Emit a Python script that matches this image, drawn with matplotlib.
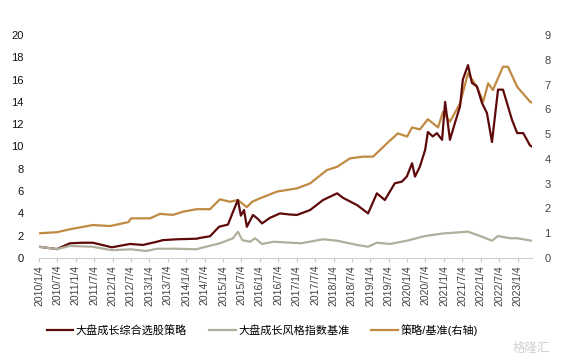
import pandas as pd
import matplotlib
matplotlib.use('Agg')
import matplotlib.pyplot as plt

plt.rcParams['font.family'] = ['Liberation Sans', 'Noto Sans CJK SC', 'DejaVu Sans']

# 大盘成长综合选股策略 (left axis)
strat_dates = ['2010-01-13', '2010-07-01', '2010-11-07', '2011-03-13', '2011-06-22', '2011-12-28',
               '2012-06-25', '2012-10-31', '2013-03-19', '2013-05-16', '2013-10-04', '2014-04-19',
               '2014-05-19', '2014-08-28', '2014-11-25', '2015-02-22', '2015-04-13', '2015-05-31',
               '2015-06-30', '2015-07-31', '2015-08-28', '2015-10-28', '2015-12-16', '2016-01-26',
               '2016-04-13', '2016-07-22', '2016-10-30', '2017-01-06', '2017-05-16', '2017-09-22',
               '2018-02-09', '2018-04-07', '2018-08-25', '2018-12-13', '2019-03-10', '2019-05-28',
               '2019-09-04', '2019-11-13', '2020-01-01', '2020-02-22', '2020-03-22', '2020-05-10',
               '2020-07-01', '2020-07-28', '2020-09-15', '2020-10-25', '2020-12-16', '2021-01-15',
               '2021-03-04', '2021-04-22', '2021-06-12', '2021-07-10', '2021-08-30', '2021-10-08',
               '2021-11-26', '2022-01-16', '2022-03-06', '2022-04-25', '2022-06-24', '2022-08-12',
               '2022-09-21', '2022-11-09', '2022-12-31', '2023-03-01', '2023-05-07', '2023-05-25']
strat_vals = [1.0, 0.8, 1.32, 1.37, 1.37, 0.96,
              1.26, 1.17, 1.46, 1.6, 1.68, 1.73,
              1.8, 1.95, 2.8, 3.0, 4.15, 5.2,
              3.8, 4.3, 2.8, 3.86, 3.5, 3.1,
              3.6, 4.0, 3.9, 3.86, 4.3, 5.2,
              5.8, 5.4, 4.75, 4.0, 5.8, 5.2,
              6.7, 6.85, 7.3, 8.5, 7.3, 8.2,
              9.7, 11.3, 10.9, 11.2, 10.6, 14.0,
              10.6, 12.1, 13.6, 16.0, 17.3, 15.7,
              15.4, 13.9, 13.0, 10.4, 15.1, 15.1,
              13.9, 12.4, 11.2, 11.2, 10.1, 10.0]

# 大盘成长风格指数基准 (left axis)
bench_dates = ['2010-01-13', '2010-07-01', '2010-11-07', '2011-06-22', '2011-12-28', '2012-07-05',
               '2012-11-30', '2013-03-19', '2013-10-04', '2014-04-19', '2014-05-19', '2014-12-04',
               '2015-04-13', '2015-05-31', '2015-07-15', '2015-09-29', '2015-11-18', '2016-01-26',
               '2016-05-21', '2017-02-15', '2017-09-22', '2018-02-09', '2018-08-25', '2018-12-13',
               '2019-03-10', '2019-07-19', '2020-01-01', '2020-07-01', '2020-12-25', '2021-08-30',
               '2022-01-16', '2022-04-25', '2022-06-24', '2022-10-20', '2022-12-31', '2023-05-25']
bench_vals = [1.0, 0.8, 1.08, 1.01, 0.7, 0.78,
              0.63, 0.83, 0.83, 0.78, 0.87, 1.32,
              1.77, 2.36, 1.6, 1.46, 1.77, 1.26,
              1.46, 1.32, 1.68, 1.55, 1.17, 1.01,
              1.37, 1.26, 1.55, 1.97, 2.2, 2.36,
              1.91, 1.55, 1.97, 1.77, 1.77, 1.55]

# 策略/基准 (right axis)
ratio_dates = ['2010-01-13', '2010-07-01', '2010-11-07', '2011-06-22', '2011-12-10', '2012-06-10',
               '2012-07-05', '2013-01-10', '2013-04-18', '2013-08-25', '2013-12-04', '2014-04-19',
               '2014-08-28', '2014-12-04', '2015-03-13', '2015-05-31', '2015-08-28', '2015-10-19',
               '2016-01-07', '2016-06-22', '2017-01-06', '2017-05-16', '2017-10-31', '2018-02-09',
               '2018-06-16', '2018-10-22', '2019-01-31', '2019-06-19', '2019-10-04', '2020-01-04',
               '2020-02-22', '2020-05-10', '2020-07-28', '2020-11-06', '2020-12-25', '2021-03-04',
               '2021-06-12', '2021-08-30', '2021-11-26', '2022-01-28', '2022-03-18', '2022-05-04',
               '2022-08-12', '2022-09-30', '2022-12-31', '2023-05-07', '2023-05-25']
ratio_vals = [1.0, 1.04, 1.16, 1.33, 1.29, 1.45,
              1.6, 1.6, 1.78, 1.74, 1.87, 1.97,
              1.97, 2.37, 2.27, 2.34, 2.05, 2.27,
              2.41, 2.68, 2.81, 3.01, 3.55, 3.68,
              4.02, 4.09, 4.09, 4.63, 5.03, 4.9,
              5.27, 5.19, 5.6, 5.27, 5.9, 5.5,
              6.24, 7.45, 6.91, 6.31, 7.05, 6.78,
              7.72, 7.72, 6.91, 6.31, 6.27]

tick_labels = [f'{y}/{m}/4' for y in range(2010, 2024) for m in (1, 7)][:-1]
tick_dates = pd.to_datetime([s.replace('/', '-') for s in tick_labels], format='%Y-%m-%d')

fig = plt.figure(figsize=(5.64, 3.62), dpi=100)
ax = fig.add_axes([39 / 564, 1 - 258 / 362, (532 - 39) / 564, (258 - 35) / 362])
ax2 = ax.twinx()
ax.set_zorder(ax2.get_zorder() + 1)
ax.patch.set_visible(False)

l1, = ax.plot(pd.to_datetime(strat_dates), strat_vals, color='#5e0a0a', lw=1.6, label='大盘成长综合选股策略')
l2, = ax.plot(pd.to_datetime(bench_dates), bench_vals, color='#b1af9c', lw=1.6, label='大盘成长风格指数基准')
l3, = ax2.plot(pd.to_datetime(ratio_dates), ratio_vals, color='#c08a43', lw=1.6, label='策略/基准(右轴)')

ax.set_xlim(pd.Timestamp('2010-01-04'), pd.Timestamp('2023-05-27'))
ax.set_ylim(0, 20)
ax2.set_ylim(0, 9)
ax.set_yticks(range(0, 21, 2))
ax2.set_yticks(range(0, 10))
ax.set_xticks(tick_dates)
ax.set_xticklabels(tick_labels, rotation=90, fontsize=7.5, color='#404040')

for a in (ax, ax2):
    for s in ('top', 'left', 'right'):
        a.spines[s].set_visible(False)
ax2.spines['bottom'].set_visible(False)
ax.spines['bottom'].set_color('#d0d0d0')
ax.tick_params(axis='x', length=3, color='#c8c8c8', pad=2)
ax.tick_params(axis='y', length=0, labelsize=8, labelcolor='#111111', pad=11)
ax2.tick_params(axis='y', length=0, labelsize=8, labelcolor='#444444', pad=9)

fig.legend(handles=[l1, l2, l3], loc='center', bbox_to_anchor=(0.465, 1 - 330 / 362), ncol=3,
           frameon=False, fontsize=8, handlelength=2.4, handletextpad=0.2, columnspacing=2.0)

fig.text(0.975, 0.02, '格隆汇', color='#d0d0d0', fontsize=9, ha='right', va='bottom')

fig.savefig('out.png', dpi=100)
